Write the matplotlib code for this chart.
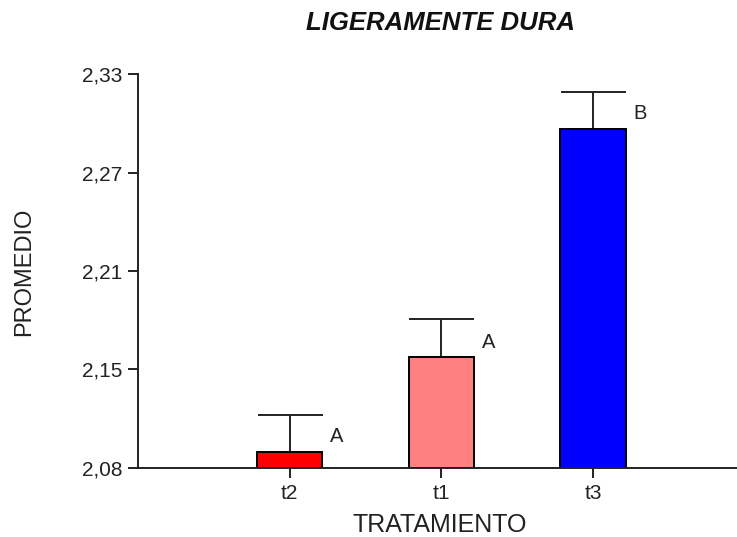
import numpy as np
import matplotlib
matplotlib.use("Agg")
import matplotlib.pyplot as plt

plt.rcParams['font.family'] = ['Liberation Sans', 'DejaVu Sans']

# group means, upper error and Tukey letters per treatment
tratamientos = ['t2', 't1', 't3']
promedio = [2.094, 2.153, 2.296]
error = [0.023, 0.024, 0.023]
letras = ['A', 'A', 'B']
colores = ['#FF0000', '#FF8080', '#0000FF']

y_min, y_max = 2.084, 2.33
y_labels = ['2,08', '2,15', '2,21', '2,27', '2,33']

fig = plt.figure(figsize=(7.37, 5.37), dpi=100)
ax = fig.add_axes([0.1872, 0.1294, 0.8128, 0.7319])

x = np.arange(1, len(tratamientos) + 1)
ax.bar(x, np.array(promedio) - y_min, bottom=y_min, width=0.43,
       color=colores, edgecolor='black', linewidth=1.4, zorder=2)
ax.errorbar(x, promedio, yerr=[np.zeros(len(error)), error], fmt='none',
            ecolor='#222222', elinewidth=1.4, capsize=23.4, capthick=1.4, zorder=1)

for xi, yi, let in zip(x, promedio, letras):
    ax.text(xi + 0.31, yi + 0.0095, let, ha='center', va='center',
            fontsize=14.5, color='#222222')

ax.set_xlim(0, 3.95)
ax.set_ylim(y_min, y_max)
ax.set_xticks(x)
ax.set_xticklabels(tratamientos)
ax.set_yticks(np.linspace(y_min, y_max, 5))
ax.set_yticklabels(y_labels)

for side in ['top', 'right']:
    ax.spines[side].set_visible(False)
for side in ['left', 'bottom']:
    ax.spines[side].set_linewidth(1.4)
    ax.spines[side].set_color('#222222')
ax.tick_params(axis='both', direction='out', length=7, width=1.4,
               color='#222222', labelsize=15, labelcolor='#222222')
ax.tick_params(axis='y', pad=4)
ax.tick_params(axis='x', pad=5)

fig.text(0.598, 0.957, 'LIGERAMENTE DURA', ha='center', va='center',
         fontsize=18.5, fontweight='bold', fontstyle='italic', color='#111111')
fig.text(0.597, 0.0215, 'TRATAMIENTO', ha='center', va='center',
         fontsize=18, color='#222222')
fig.text(0.033, 0.494, 'PROMEDIO', ha='center', va='center', rotation=90,
         fontsize=17, color='#222222')

fig.savefig('out.png', dpi=100)
